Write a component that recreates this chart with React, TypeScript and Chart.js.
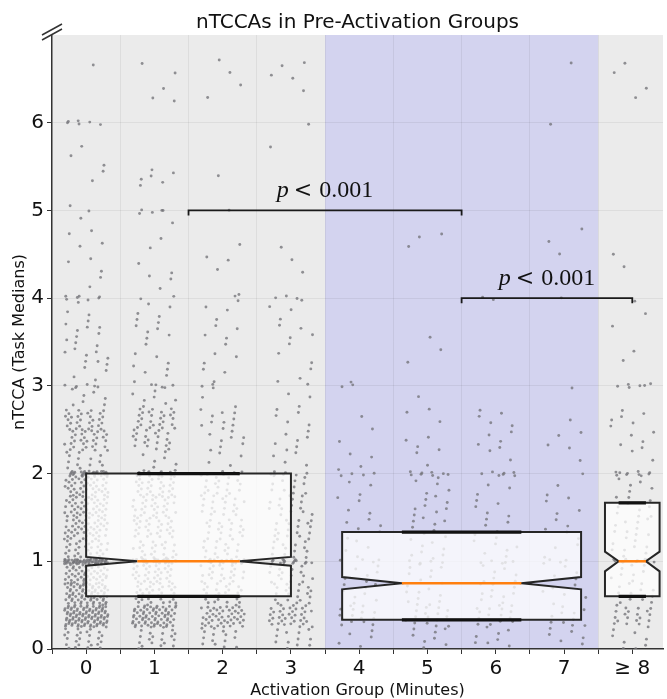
import React, { useEffect, useRef } from 'react';
import { Chart, registerables } from 'chart.js';

Chart.register(...registerables);

// ---------- data ----------
const groupLabels = ['0', '1', '2', '3', '4', '5', '6', '7', '≥ 8'];
const groupPositions = [0, 1, 2, 3, 4, 5, 6, 7, 8];

// count of task medians per 0.25-wide value bin (0–7)
const binWidth = 0.25;
const bins0 = [25, 100, 70, 55, 35, 45, 45, 45, 15, 30, 30, 8, 5, 9, 8, 3, 3, 3, 3, 2, 1, 2, 3, 0, 0, 0, 1, 0];
const bins1 = [20, 70, 35, 35, 25, 30, 30, 30, 8, 20, 25, 8, 6, 4, 6, 5, 2, 3, 2, 2, 1, 6, 0, 0, 1, 2, 2, 0];
const bins2 = [15, 45, 25, 25, 18, 20, 20, 18, 5, 8, 10, 3, 3, 4, 4, 4, 1, 3, 1, 0, 1, 1, 0, 0, 0, 2, 2, 0];
const bins3 = [12, 35, 20, 18, 15, 18, 15, 12, 5, 7, 5, 3, 3, 3, 4, 4, 0, 2, 1, 0, 0, 0, 1, 0, 0, 1, 4, 0];
const bins4 = [5, 15, 8, 6, 5, 6, 4, 3, 4, 1, 2, 0, 1, 0, 0, 0, 0, 0, 0, 0, 0, 0, 0, 0, 0, 0, 0, 0];
const bins5 = [8, 15, 10, 8, 8, 8, 8, 6, 2, 4, 3, 1, 0, 2, 1, 0, 0, 0, 3, 0, 0, 0, 0, 0, 0, 0, 0, 0];
const bins6 = [8, 15, 10, 8, 6, 6, 5, 4, 1, 6, 5, 0, 0, 0, 0, 0, 0, 0, 0, 0, 0, 0, 0, 0, 0, 0, 0, 0];
const bins7 = [6, 10, 6, 5, 4, 5, 4, 2, 1, 4, 1, 0, 0, 0, 0, 0, 0, 0, 2, 1, 0, 0, 0, 0, 0, 0, 1, 0];
const bins8 = [8, 20, 12, 10, 10, 10, 10, 6, 2, 6, 6, 0, 1, 2, 1, 2, 0, 1, 1, 0, 0, 0, 0, 0, 0, 2, 2, 0];

// medians sitting exactly on whole values
const exactLevels = [1, 2, 3, 4, 5, 6];
const exact0 = [45, 25, 5, 6, 1, 6];
const exact1 = [25, 15, 3, 2, 3, 0];
const exact2 = [15, 5, 2, 1, 0, 0];
const exact3 = [10, 5, 1, 3, 0, 1];
const exact4 = [3, 4, 2, 0, 0, 0];
const exact5 = [4, 7, 0, 0, 0, 0];
const exact6 = [4, 6, 0, 2, 0, 0];
const exact7 = [2, 1, 1, 1, 0, 1];
const exact8 = [6, 8, 5, 0, 0, 0];

const allBins = [bins0, bins1, bins2, bins3, bins4, bins5, bins6, bins7, bins8];
const allExact = [exact0, exact1, exact2, exact3, exact4, exact5, exact6, exact7, exact8];

// notched boxes (pooled groups)
const boxStart = [0, 3.75, 7.6];
const boxEnd = [3, 7.25, 8.4];
const boxQ1 = [0.6, 0.333, 0.6];
const boxMedian = [1.0, 0.75, 1.0];
const boxQ3 = [2.0, 1.333, 1.667];
const notchLow = [0.95, 0.68, 0.885];
const notchHigh = [1.05, 0.82, 1.11];

// significance brackets
const bracketFrom = [1.5, 5.5];
const bracketTo = [5.5, 8];
const bracketY = [5, 4];
const bracketP = ['0.001', '0.001'];

const shadedFrom = 3.5;
const shadedTo = 7.5;

// ---------- build jittered points ----------
const A1 = 0.7548776662466927;
const A2 = 0.5698402909980532;
function buildPoints() {
  const pts: { x: number; y: number }[] = [];
  allBins.forEach((bins, g) => {
    const cx = groupPositions[g];
    let k = 0;
    const next = () => {
      k++;
      const u = (0.5 + k * A1 + g * 0.13) % 1;
      const v = (0.5 + k * A2 + g * 0.37) % 1;
      return [u, v];
    };
    bins.forEach((count, b) => {
      for (let i = 0; i < count; i++) {
        const [u, v] = next();
        pts.push({ x: cx + (u - 0.5) * 0.64, y: b * binWidth + v * binWidth });
      }
    });
    allExact[g].forEach((count, li) => {
      for (let i = 0; i < count; i++) {
        const [u, v] = next();
        pts.push({ x: cx + (u - 0.5) * 0.64, y: exactLevels[li] + (v - 0.5) * 0.05 });
      }
    });
  });
  return pts;
}

const isHalf = (v: number) => Math.abs(v * 2 - Math.round(v * 2)) < 1e-6 && Math.abs(v - Math.round(v)) > 1e-6;
const isInt = (v: number) => Math.abs(v - Math.round(v)) < 1e-6;

const decorPlugin = {
  id: 'decor',
  beforeDraw(chart: any) {
    const { ctx, chartArea: a, scales } = chart;
    const xs = scales.x;
    ctx.save();
    ctx.fillStyle = '#ebebeb';
    ctx.fillRect(a.left, a.top, a.right - a.left, a.bottom - a.top);
    const x1 = xs.getPixelForValue(shadedFrom);
    const x2 = xs.getPixelForValue(shadedTo);
    ctx.fillStyle = '#d3d3ef';
    ctx.fillRect(x1, a.top, x2 - x1, a.bottom - a.top);
    ctx.restore();
  },
  afterDatasetsDraw(chart: any) {
    const { ctx, scales } = chart;
    const xs = scales.x;
    const ys = scales.y;
    ctx.save();
    for (let i = 0; i < boxStart.length; i++) {
      const L = xs.getPixelForValue(boxStart[i]);
      const R = xs.getPixelForValue(boxEnd[i]);
      const c = (L + R) / 2;
      const hw = (R - L) / 2;
      const nl = c - hw / 2;
      const nr = c + hw / 2;
      const q1 = ys.getPixelForValue(boxQ1[i]);
      const q3 = ys.getPixelForValue(boxQ3[i]);
      const md = ys.getPixelForValue(boxMedian[i]);
      const lo = ys.getPixelForValue(notchLow[i]);
      const hi = ys.getPixelForValue(notchHigh[i]);
      ctx.beginPath();
      ctx.moveTo(L, q1);
      ctx.lineTo(R, q1);
      ctx.lineTo(R, lo);
      ctx.lineTo(nr, md);
      ctx.lineTo(R, hi);
      ctx.lineTo(R, q3);
      ctx.lineTo(L, q3);
      ctx.lineTo(L, hi);
      ctx.lineTo(nl, md);
      ctx.lineTo(L, lo);
      ctx.closePath();
      ctx.fillStyle = 'rgba(255,255,255,0.75)';
      ctx.fill();
      ctx.lineWidth = 2;
      ctx.lineJoin = 'miter';
      ctx.strokeStyle = '#262626';
      ctx.stroke();
      // caps
      ctx.lineWidth = 3.2;
      ctx.strokeStyle = '#111';
      ctx.beginPath();
      ctx.moveTo(nl, q1); ctx.lineTo(nr, q1);
      ctx.moveTo(nl, q3); ctx.lineTo(nr, q3);
      ctx.stroke();
      // median
      ctx.lineWidth = 2.5;
      ctx.strokeStyle = '#ff7f0e';
      ctx.beginPath();
      ctx.moveTo(nl, md); ctx.lineTo(nr, md);
      ctx.stroke();
    }
    // brackets
    for (let i = 0; i < bracketFrom.length; i++) {
      const x1 = xs.getPixelForValue(bracketFrom[i]);
      const x2 = xs.getPixelForValue(bracketTo[i]);
      const y = ys.getPixelForValue(bracketY[i]);
      ctx.lineWidth = 1.8;
      ctx.strokeStyle = '#1a1a1a';
      ctx.lineCap = 'butt';
      ctx.beginPath();
      ctx.moveTo(x1, y + 5);
      ctx.lineTo(x1, y);
      ctx.lineTo(x2, y);
      ctx.lineTo(x2, y + 5);
      ctx.stroke();
      // p < 0.001
      const cx = (x1 + x2) / 2;
      const base = y - 13;
      ctx.fillStyle = '#111';
      ctx.textBaseline = 'alphabetic';
      ctx.textAlign = 'left';
      const fi = 'italic 24px "Liberation Serif"';
      const fr = '24px "Liberation Serif"';
      const fl = '22px "DejaVu Serif"';
      ctx.font = fi;
      const wp = ctx.measureText('p').width;
      ctx.font = fl;
      const wl = ctx.measureText('<').width;
      ctx.font = fr;
      const wn = ctx.measureText(bracketP[i]).width;
      const g1 = 5, g2 = 7;
      const total = wp + g1 + wl + g2 + wn;
      let sx = cx - total / 2;
      ctx.font = fi;
      ctx.fillText('p', sx, base);
      sx += wp + g1;
      ctx.font = fl;
      ctx.fillText('<', sx, base);
      sx += wl + g2;
      ctx.font = fr;
      ctx.fillText(bracketP[i], sx, base);
    }
    ctx.restore();
  },
  afterDraw(chart: any) {
    const { ctx, chartArea: a } = chart;
    ctx.save();
    ctx.fillStyle = '#111';
    ctx.textAlign = 'center';
    ctx.textBaseline = 'alphabetic';
    ctx.font = '20px "DejaVu Sans"';
    ctx.fillText('nTCCAs in Pre-Activation Groups', (a.left + a.right) / 2, 28);
    ctx.font = '16px "DejaVu Sans"';
    ctx.fillText('Activation Group (Minutes)', (a.left + a.right) / 2, 695);
    ctx.translate(20, (a.top + a.bottom) / 2);
    ctx.rotate(-Math.PI / 2);
    ctx.textBaseline = 'middle';
    ctx.fillText('nTCCA (Task Medians)', 0, 0);
    ctx.restore();
    // axis break marks
    ctx.save();
    ctx.strokeStyle = '#333';
    ctx.lineWidth = 1.5;
    ctx.beginPath();
    ctx.moveTo(a.left - 10, a.top + 5);
    ctx.lineTo(a.left + 10, a.top - 6);
    ctx.moveTo(a.left - 10, a.top);
    ctx.lineTo(a.left + 10, a.top - 11);
    ctx.stroke();
    ctx.restore();
  },
};

export default function App() {
  const ref = useRef<HTMLCanvasElement | null>(null);
  useEffect(() => {
    if (!ref.current) return;
    const points = buildPoints();
    const chart = new Chart(ref.current, {
      type: 'scatter',
      data: {
        datasets: [
          {
            data: points,
            pointRadius: 1.45,
            pointBorderWidth: 0,
            backgroundColor: 'rgba(115,115,120,0.78)',
            borderColor: 'rgba(0,0,0,0)',
          },
        ],
      },
      options: {
        animation: false,
        responsive: false,
        events: [],
        layout: { padding: { top: 35, left: 0, right: 0, bottom: 0 } },
        plugins: { legend: { display: false }, tooltip: { enabled: false }, title: { display: false } },
        scales: {
          x: {
            type: 'linear',
            min: -0.5,
            max: 8.45,
            afterBuildTicks: (s: any) => {
              s.ticks = s.ticks.filter((t: any) => Math.abs(t.value * 2 - Math.round(t.value * 2)) < 1e-6);
            },
            afterFit: (s: any) => {
              s.height = 50;
              s.paddingLeft = 0;
              s.paddingRight = 0;
            },
            ticks: {
              stepSize: 0.5,
              includeBounds: false,
              autoSkip: false,
              maxRotation: 0,
              padding: 3,
              color: '#111',
              font: { family: 'DejaVu Sans', size: 20 },
              callback: (v: any) => {
                const n = Number(v);
                if (!isInt(n)) return '';
                const idx = groupPositions.indexOf(Math.round(n));
                return idx >= 0 ? groupLabels[idx] : '';
              },
            },
            grid: {
              color: (c: any) => (c.tick && isHalf(c.tick.value) && c.tick.value > -0.4 ? 'rgba(0,0,0,0.06)' : 'rgba(0,0,0,0)'),
              tickColor: '#333',
              tickLength: 5,
              lineWidth: 1,
            },
            border: { display: true, color: '#333', width: 1.5 },
          },
          y: {
            type: 'linear',
            min: 0,
            max: 7,
            afterFit: (s: any) => {
              s.width = 52;
              s.paddingTop = 0;
              s.paddingBottom = 0;
            },
            ticks: {
              stepSize: 1,
              padding: 3,
              color: '#111',
              font: { family: 'DejaVu Sans', size: 20 },
              callback: (v: any) => (Number(v) >= 7 ? '' : String(v)),
            },
            grid: {
              color: (c: any) => (c.tick && c.tick.value > 0 && c.tick.value < 7 ? 'rgba(0,0,0,0.06)' : 'rgba(0,0,0,0)'),
              tickColor: (c: any) => (c.tick && c.tick.value >= 7 ? 'rgba(0,0,0,0)' : '#333'),
              tickLength: 5,
              lineWidth: 1,
            },
            border: { display: true, color: '#333', width: 1.5 },
          },
        },
      },
      plugins: [decorPlugin],
    } as any);
    return () => chart.destroy();
  }, []);
  return (
    <div style={{ position: 'fixed', left: 0, top: 0, width: 667, height: 699, background: '#fff' }}>
      <canvas ref={ref} width={667} height={699} style={{ display: 'block' }} />
    </div>
  );
}
